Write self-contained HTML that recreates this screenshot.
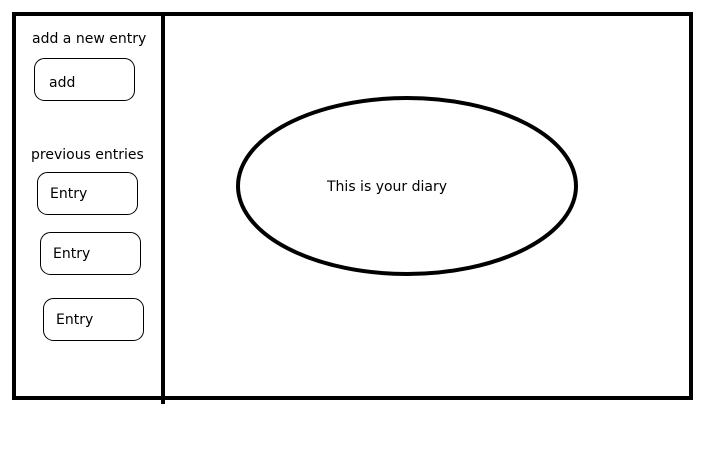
<!DOCTYPE html>
<html><head><meta charset="utf-8"><style>
html,body{margin:0;padding:0;background:#fff;}
svg{display:block;}
text{font-family:"DejaVu Sans","Liberation Sans",sans-serif;font-size:14px;fill:#000;}
</style></head><body>
<svg width="725" height="454" viewBox="0 0 725 454">
<rect x="14" y="14" width="677" height="384" fill="none" stroke="#000" stroke-width="4"/>
<line x1="163" y1="12" x2="163" y2="404" stroke="#000" stroke-width="4"/>
<text x="32" y="43">add a new entry</text>
<g>
<rect x="34.5" y="58.5" width="100" height="42" rx="10" fill="#fff" stroke="#000" stroke-width="1"/>
<text x="49" y="87">add</text></g>
<text x="31" y="159">previous entries</text>
<g>
<rect x="37.5" y="172.5" width="100" height="42" rx="10" fill="#fff" stroke="#000" stroke-width="1"/>
<text x="50" y="198">Entry</text></g>
<g>
<rect x="40.5" y="232.5" width="100" height="42" rx="10" fill="#fff" stroke="#000" stroke-width="1"/>
<text x="53" y="258">Entry</text></g>
<g>
<rect x="43.5" y="298.5" width="100" height="42" rx="10" fill="#fff" stroke="#000" stroke-width="1"/>
<text x="56" y="324">Entry</text></g>
<ellipse cx="407" cy="186" rx="169" ry="88" fill="none" stroke="#000" stroke-width="4"/>
<text x="327" y="191">This is your diary</text>
</svg>
</body></html>
